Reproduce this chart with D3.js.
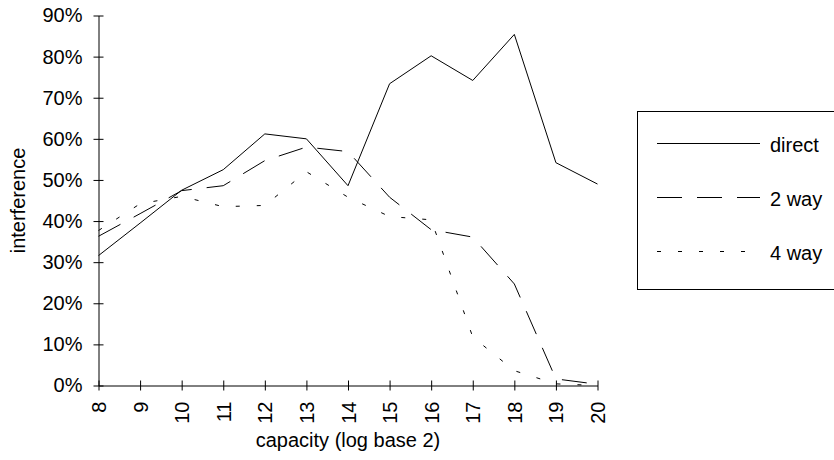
<!DOCTYPE html>
<html>
<head>
<meta charset="utf-8">
<script src="https://cdn.jsdelivr.net/npm/d3@7"></script>
<style>
  html, body { margin: 0; padding: 0; background: #fff; }
  svg { display: block; }
  text { font-family: "Liberation Sans", Arial, sans-serif; fill: #000; }
</style>
</head>
<body>
<div id="chart"></div>
<script>
// capacity (log base 2)
const capacity = [8, 9, 10, 11, 12, 13, 14, 15, 16, 17, 18, 19, 20];
// interference per associativity, as fractions
const directValues = [0.316, 0.395, 0.475, 0.525, 0.612, 0.600, 0.486, 0.734, 0.802, 0.742, 0.854, 0.542, 0.490];
const twoWayValues = [0.363, 0.418, 0.474, 0.486, 0.547, 0.580, 0.569, 0.458, 0.379, 0.361, 0.247, 0.016, 0.003];
const fourWayValues = [0.377, 0.442, 0.460, 0.435, 0.438, 0.520, 0.458, 0.411, 0.403, 0.118, 0.036, 0.004, 0.000];
const yTicks = [0, 0.1, 0.2, 0.3, 0.4, 0.5, 0.6, 0.7, 0.8, 0.9];
const seriesNames = ['direct', '2 way', '4 way'];

const series = [
  { name: seriesNames[0], values: directValues, dash: null },
  { name: seriesNames[1], values: twoWayValues, dash: '25,15' },
  { name: seriesNames[2], values: fourWayValues, dash: '4,17' }
];

const width = 834, height = 460;
const FONT = 20;

const svg = d3.select('#chart').append('svg')
  .attr('width', width).attr('height', height);

const x = d3.scaleLinear().domain([8, 20]).range([98.5, 597.5]);
const y = d3.scaleLinear().domain([0, 0.9]).range([385.5, 15.5]);

// y axis
const yAxis = d3.axisLeft(y).tickValues(yTicks).tickFormat(d3.format('.0%'))
  .tickSizeOuter(0).tickSizeInner(5).tickPadding(11);
const gy = svg.append('g').attr('transform', `translate(${x(8)},0)`).call(yAxis);
gy.selectAll('.tick line').attr('x1', -5).attr('x2', 5);
gy.selectAll('.tick text').attr('font-size', FONT).attr('font-family', null).attr('x', -16);
gy.select('.domain').attr('stroke', '#000');

// x axis
const xAxis = d3.axisBottom(x).tickValues(capacity).tickFormat(d3.format('d'))
  .tickSizeOuter(0).tickSizeInner(5);
const gx = svg.append('g').attr('transform', `translate(0,${y(0)})`).call(xAxis);
gx.selectAll('.tick line').attr('y1', -5).attr('y2', 5);
gx.selectAll('.tick text')
  .attr('font-size', FONT).attr('font-family', null)
  .attr('transform', 'rotate(-90)')
  .attr('x', -16).attr('y', 0).attr('dy', '0.35em')
  .attr('text-anchor', 'end');
gx.select('.domain').attr('stroke', '#000');

// axis titles
svg.append('text')
  .attr('x', (x(8) + x(20)) / 2).attr('y', 447)
  .attr('text-anchor', 'middle').attr('font-size', FONT)
  .text('capacity (log base 2)');

svg.append('text')
  .attr('transform', `translate(25,${(y(0) + y(0.9)) / 2}) rotate(-90)`)
  .attr('text-anchor', 'middle').attr('font-size', FONT)
  .text('interference');

// lines
const line = d3.line().x((d, i) => x(capacity[i])).y(d => y(d));
series.forEach(s => {
  svg.append('path')
    .datum(s.values)
    .attr('d', line)
    .attr('fill', 'none')
    .attr('stroke', '#000')
    .attr('stroke-width', 1)
    .attr('stroke-dasharray', s.dash);
});

// legend
const legend = svg.append('g');
legend.append('rect')
  .attr('x', 637.5).attr('y', 111.5)
  .attr('width', 210).attr('height', 178)
  .attr('fill', '#fff').attr('stroke', '#000').attr('stroke-width', 1);

const legendY = d3.scalePoint().domain(seriesNames).range([143.5, 251.5]);
series.forEach(s => {
  const ly = legendY(s.name);
  legend.append('line')
    .attr('x1', 657).attr('x2', 760)
    .attr('y1', ly).attr('y2', ly)
    .attr('stroke', '#000').attr('stroke-width', 1)
    .attr('stroke-dasharray', s.dash);
  legend.append('text')
    .attr('x', 770).attr('y', ly + 1).attr('dy', '0.35em')
    .attr('font-size', FONT)
    .text(s.name);
});
</script>
</body>
</html>
